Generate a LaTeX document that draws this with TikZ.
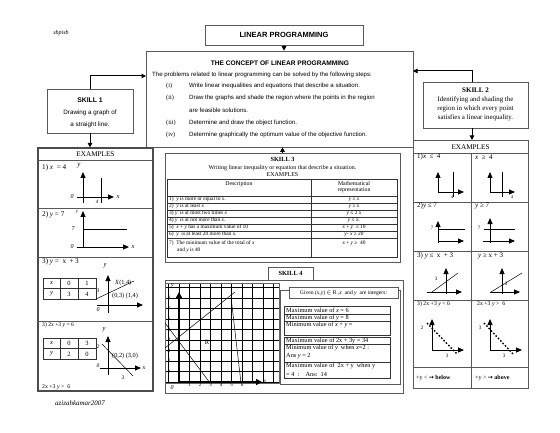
\documentclass[tikz,border=0pt]{standalone}
\usepackage{fontspec}
\setmainfont{Liberation Serif}
\newfontfamily\arial{Liberation Sans}
\newfontfamily\dejavu{DejaVu Sans}
\usetikzlibrary{arrows.meta}
\newcommand\fsz[2]{\fontsize{#1}{#2}\selectfont}
\begin{document}
\begin{tikzpicture}[x=1pt,y=-1pt,
 bx/.style={draw=black!65,line width=.6pt,inner sep=0pt},
 pnl/.style={draw=black!70,line width=1.1pt,inner sep=0pt},
 tl/.style={draw=black!80,line width=.5pt},
 arr/.style={line width=1pt,-{Triangle[length=4.5pt,width=4.5pt]}},
 ax/.style={line width=.8pt,-{Triangle[length=6pt,width=5pt]}},
 ln/.style={line width=.5pt},
 dotl/.style={line width=1.4pt,dash pattern=on 1.6pt off 1.8pt},
 tx/.style={inner sep=0pt},
 lt/.style={inner sep=0pt,anchor=west},
 gridl/.style={draw=black,line width=.75pt},
]
\fill[white] (0,0) rectangle (560,433);
\useasboundingbox (0,0) rectangle (560,433);

% ---------- header ----------
\node[tx,font=\itshape\fsz{6}{7}] (sb) at (61,33) {sbpisb};
\node[tx,font=\itshape\fsz{7}{8}] (az) at (80,403) {azizahkamar2007};
\node[bx,minimum width=158pt,minimum height=20pt,font=\arial\bfseries\fsz{7.5}{9}] (lp) at (284,35) {LINEAR PROGRAMMING};

% ---------- concept ----------
\node[bx,minimum width=267pt,minimum height=96pt] (concept) at (279.5,99) {};
\node[tx,font=\arial\bfseries\fsz{6.6}{8}] (ct) at (280,63) {THE CONCEPT OF LINEAR PROGRAMMING};
\node[lt,font=\arial\fsz{6.1}{7}] (c0) at (152,75) {The problems related to linear programming can be solved by the following steps:};
\node[lt,font=\fsz{6.3}{7}] (ci) at (166,86) {(i)};
\node[lt,font=\arial\fsz{6.1}{7}] (cit) at (189,86) {Write linear inequalities and equations that describe a situation.};
\node[lt,font=\fsz{6.3}{7}] (cii) at (166,98) {(ii)};
\node[lt,font=\arial\fsz{6.1}{7}] (ciit) at (189,98) {Draw the graphs and shade the region where the points in the region};
\node[lt,font=\arial\fsz{6.1}{7}] (ciit2) at (189,110) {are feasible solutions.};
\node[lt,font=\fsz{6.3}{7}] (ciii) at (166,123) {(iii)};
\node[lt,font=\arial\fsz{6.1}{7}] (ciiit) at (189,123) {Determine and draw the object function.};
\node[lt,font=\fsz{6.3}{7}] (civ) at (166,135) {(iv)};
\node[lt,font=\arial\fsz{6.1}{7}] (civt) at (189,135) {Determine graphically the optimum value of the objective function.};

% ---------- skill 1 / skill 2 ----------
\node[bx,minimum width=86pt,minimum height=44pt] (s1) at (90,111) {};
\node[tx,font=\arial\bfseries\fsz{6.8}{8}] (s1a) at (90,100) {SKILL 1};
\node[tx,font=\arial\fsz{6.3}{7}] (s1b) at (90,113) {Drawing a graph of};
\node[tx,font=\arial\fsz{6.3}{7}] (s1c) at (90,125) {a straight line.};

\node[bx,minimum width=105pt,minimum height=46pt] (s2) at (475.5,105) {};
\node[tx,font=\bfseries\fsz{7}{8}] (s2a) at (475.5,90) {SKILL 2};
\node[tx,font=\fsz{6.9}{8}] (s2b) at (475.5,99.5) {Identifying and shading the};
\node[tx,font=\fsz{6.9}{8}] (s2c) at (475.5,108.5) {region in which every point};
\node[tx,font=\fsz{6.9}{8}] (s2d) at (475.5,117.5) {satisfies a linear inequality.};

% ---------- panels ----------
\node[pnl,minimum width=115pt,minimum height=243pt] (lpanel) at (95.5,269.5) {};
\node[bx,line width=.9pt,minimum width=115pt,minimum height=248pt] (rpanel) at (470.5,264) {};

% ---------- connectors ----------
\coordinate (cin1) at (146,76);
\coordinate (cin2) at (413,71);
\draw[arr] (lp.south) -- (lp.south |- concept.north);
\draw[arr] (s1.north) |- (cin1);
\draw[arr] (s2.north -| 472,0) |- (cin2);
\draw[arr] (s1.south) -- (s1.south |- lpanel.north);
\draw[arr] (s2.south -| 472,0) -- (472,140);

% ---------- left examples ----------
\node[tx,font=\fsz{7.2}{8}] (lex) at (95.5,154) {EXAMPLES};
\foreach \yy in {160,208,257,321} \draw[bx,line width=.8pt] (38,\yy) -- (153,\yy);
% 1
\node[lt,font=\fsz{7.2}{8}] (l1) at (42,168) {1) \textit{x}\ \ = 4};
\node[tx,font=\itshape\fsz{7}{8}] (l1y) at (79,166) {y};
\draw[ax] (83,203) -- (83,172);
\draw[ax] (77,197) -- (114,197);
\draw[ln] (101,178) -- (101,203);
\node[tx,font=\itshape\fsz{6}{7}] (l1o) at (72,197) {0};
\node[tx,font=\itshape\fsz{5}{6}] (l1f) at (97,202) {4};
\node[tx,font=\itshape\fsz{6.5}{7}] (l1x) at (118,197) {x};
% 2
\node[lt,font=\fsz{7.2}{8}] (l2) at (42,215) {2) \textit{y} = 7};
\node[tx,font=\itshape\fsz{4.5}{5}] (l2y) at (77,212) {y};
\draw[ax] (83,248) -- (83,211);
\draw[ax] (77,247) -- (129,247);
\draw[ln] (83,229) -- (127,229);
\node[tx,font=\itshape\fsz{6}{7}] (l2s) at (73,229) {7};
\node[tx,font=\itshape\fsz{6}{7}] (l2o) at (72,247) {0};
\node[tx,font=\itshape\fsz{6.5}{7}] (l2x) at (133,247) {x};
% 3
\node[lt,font=\fsz{7.2}{8}] (l3) at (42,262) {3) \textit{y} = \ x \,+ 3};
\node[tx,font=\itshape\fsz{6.5}{7}] (l3y) at (105,266) {y};
\draw[tl] (43,278) rectangle (96,299);
\draw[tl] (43,288.5) -- (96,288.5) (60,278) -- (60,299) (78,278) -- (78,299);
\node[tx,font=\itshape\fsz{6.5}{7}] (l3a) at (51.5,283.5) {x};
\node[tx,font=\fsz{6.5}{7}] (l3b) at (69,283.5) {0};
\node[tx,font=\fsz{6.5}{7}] (l3c) at (87,283.5) {1};
\node[tx,font=\itshape\fsz{6.5}{7}] (l3d) at (51.5,294) {y};
\node[tx,font=\fsz{6.5}{7}] (l3e) at (69,294) {3};
\node[tx,font=\fsz{6.5}{7}] (l3f) at (87,294) {4};
\draw[ax] (108,313) -- (108,275);
\draw[ax] (97,305) -- (143,305);
\draw[ln] (96,299) -- (134,281);
\node[tx,font=\itshape\fsz{5.5}{6}] (l3t) at (98,291) {3};
\node[tx,font=\itshape\fsz{6}{7}] (l3o) at (98,310) {0};
\node[lt,font=\fsz{6.3}{7}] (l3p) at (115,283) {\textit{X}(1,4)};
\node[lt,font=\fsz{6.3}{7}] (l3q) at (112,296) {(0,3) (1,4)};
% 4
\node[lt,font=\fsz{5.6}{6}] (l4) at (42,325) {3) 2x +3 \textit{y} = 6};
\node[tx,font=\itshape\fsz{6.5}{7}] (l4y) at (104,330) {y};
\draw[tl] (43,338) rectangle (96,359);
\draw[tl] (43,348.5) -- (96,348.5) (60,338) -- (60,359) (78,338) -- (78,359);
\node[tx,font=\itshape\fsz{6.5}{7}] (l4a) at (51.5,343.5) {x};
\node[tx,font=\fsz{6.5}{7}] (l4b) at (69,343.5) {0};
\node[tx,font=\fsz{6.5}{7}] (l4c) at (87,343.5) {3};
\node[tx,font=\itshape\fsz{6.5}{7}] (l4d) at (51.5,354) {y};
\node[tx,font=\fsz{6.5}{7}] (l4e) at (69,354) {2};
\node[tx,font=\fsz{6.5}{7}] (l4f) at (87,354) {0};
\draw[ax] (108,375) -- (108,336);
\draw[ax] (100,368) -- (141,368);
\draw[ln] (102,344) -- (133,376);
\node[tx,font=\itshape\fsz{5.5}{6}] (l4t) at (98,347) {2};
\node[tx,font=\itshape\fsz{5.5}{6}] (l4o) at (98,366) {0};
\node[tx,font=\itshape\fsz{5.5}{6}] (l4h) at (123,378) {3};
\node[lt,font=\fsz{6.3}{7}] (l4p) at (112,356) {(0,2) (3,0)};
\node[tx,font=\itshape\fsz{6.3}{7}] (l4x) at (144,368) {x};
\node[lt,font=\fsz{5.8}{6}] (l4i) at (42,387) {2x +3 \textit{y} >\ \ 6};

% ---------- skill 3 ----------
\node[bx,minimum width=235pt,minimum height=109pt] (s3) at (282.5,207.5) {};
\draw[arr] (s3.north) -- (s3.north |- concept.south);
\node[tx,font=\bfseries\fsz{6.3}{7}] (s3a) at (282.5,159) {SKILL 3};
\node[tx,font=\fsz{6}{7}] (s3b) at (282.5,168) {Writing linear inequality or equation that describe a situation.};
\node[tx,font=\fsz{6}{7}] (s3c) at (282.5,175) {EXAMPLES};
\draw[tl,line width=.7pt] (167,179) rectangle (397,257);
\draw[tl] (311,179) -- (311,257);
\foreach \yy in {196,203,210,217,224,231,238} \draw[tl] (167,\yy) -- (397,\yy);
\node[tx,font=\fsz{5.8}{6}] (th1) at (239,184) {Description};
\node[tx,font=\fsz{5.8}{6}] (th2) at (354,183.5) {Mathematical};
\node[tx,font=\fsz{5.8}{6}] (th3) at (354,190.5) {representation};
\begin{scope}[every node/.style={font=\fsz{5.4}{6}}]
\node[lt] (r1) at (169,199.5) {1)\ \ \textit{y} is more or equal to \textit{x}.};
\node[lt] (r2) at (169,206.5) {2)\ \ \textit{y} is at least \textit{x}};
\node[lt] (r3) at (169,213.5) {3)\ \textit{y}\ \ is at most two times \textit{x}};
\node[lt] (r4) at (169,220.5) {4)\ \textit{y}\ \ is at not more than \textit{x}.};
\node[lt] (r5) at (169,227.5) {5)\ \ \textit{x} + \textit{y} has a maximum value of 10};
\node[lt] (r6) at (169,234.5) {6)\ \ \textit{y}\ \ is at least 20 more than \textit{x}.};
\node[lt] (r7) at (169,243) {7)\ \ The minimum value of the total of \textit{x}};
\node[lt] (r7b) at (177,250.5) {and \textit{y} is 40};
\node[tx] (m1) at (354,199.5) {\textit{y} ≥ \textit{x}};
\node[tx] (m2) at (354,206.5) {\textit{y} ≥ \textit{x}};
\node[tx] (m3) at (354,213.5) {\textit{y} ≤ 2 \textit{x}};
\node[tx] (m4) at (354,220.5) {\textit{y} ≤ x.};
\node[tx] (m5) at (354,227.5) {\textit{x} + \textit{y}\ \ ≤ 10};
\node[tx] (m6) at (354,234.5) {\textit{y}- \textit{x} ≥ 20};
\node[tx] (m7) at (354,243) {\textit{x} + \textit{y} ≥\ \ 40};
\end{scope}

% ---------- skill 4 ----------
\node[bx,minimum width=238pt,minimum height=113pt] (s4) at (284,336.5) {};
\node[bx,fill=white,minimum width=45pt,minimum height=13pt,font=\bfseries\fsz{6.3}{7}] (s4t) at (290.5,273.5) {SKILL 4};
\begin{scope}
\clip (165,283) rectangle (279,383.5);
\foreach \k in {-1,...,9} \draw[gridl] (179+10.5*\k,280) -- (179+10.5*\k,390);
\foreach \k in {0,...,9} \draw[gridl] (160,382-10.5*\k) -- (285,382-10.5*\k);
\end{scope}
\draw[gridl,line width=.5pt,draw=black!60] (165,283) rectangle (279,383.5);
\draw[line width=1.8pt,-{Triangle[length=6pt,width=6pt]}] (179,382) -- (179,292);
\draw[line width=1.5pt,-{Triangle[length=6pt,width=6pt]}] (179,382) -- (262,382);
\foreach \k in {1,...,8} \node[tx,font=\itshape\fsz{5}{6}] (gy\k) at (169,382-10.5*\k) {\k};
\foreach \k in {1,...,6} \node[tx,font=\fsz{5}{6}] (gx\k) at (179+10.5*\k,384.5) {\k};
\node[tx,font=\itshape\fsz{6}{7}] (g0) at (172,387.5) {0};
\node[tx,font=\itshape\fsz{6}{7}] (gyl) at (172.5,285.5) {y};
\node[tx,font=\itshape\fsz{5}{6}] (gxl) at (265,381.5) {x};
\draw[ln] (165,323) -- (210,383);
\draw[ln] (165,348) -- (235,292);
\draw[ln] (231,297) -- (241,383);
\node[tx,font=\fsz{6.5}{7}] (gR) at (207,342) {R};

\draw[bx] (280,290) rectangle (400,384);
\node[bx,fill=white,minimum width=109pt,minimum height=11pt,font=\fsz{5.6}{6}] (given) at (343.5,293) {Given (\textit{x},\textit{y}) $\in$ R ,\textit{x}\ \ and \textit{y}\ \ are integers:};
\begin{scope}[every node/.style={font=\fsz{6.3}{7}}]
\draw[tl,line width=.6pt] (284,306) rectangle (390,314);
\draw[tl,line width=.6pt] (284,314) rectangle (390,321);
\draw[tl,line width=.6pt] (284,321) rectangle (390,335);
\draw[tl,line width=.6pt] (284,337) rectangle (390,344);
\draw[tl,line width=.6pt] (284,344) rectangle (390,362);
\draw[tl,line width=.6pt] (284,362) rectangle (390,378);
\node[lt] (k1) at (286,310) {Maximum value of \textit{x} = 6};
\node[lt] (k2) at (286,317.5) {Maximum value of \textit{y} = 8};
\node[lt] (k3) at (286,325) {Minimum value of \textit{x} + \textit{y} =};
\node[lt] (k4) at (286,340.5) {Maximum value of 2x + 3y = 34};
\node[lt] (k5) at (286,348) {Minimum value of \textit{y}\ \ when \textit{x}=2 :};
\node[lt] (k5b) at (286,356.5) {Ans \textit{y} = 2};
\node[lt] (k6) at (286,366) {Maximum value of\ \ 2x + y\ \ when y};
\node[lt] (k6b) at (286,374) {= 4\ \ :\ \ \ \ Ans:\ \ 14};
\end{scope}

% ---------- right examples ----------
\node[tx,font=\fsz{7.2}{8}] (rex) at (470.5,147) {EXAMPLES};
\foreach \yy in {153,202,251,300,367} \draw[bx,line width=.8pt] (413,\yy) -- (528,\yy);
\draw[bx,line width=.8pt] (471,153) -- (471,388);
% row 1
\node[lt,font=\fsz{7}{8}] (q1) at (417,157) {1)\textit{x}\ \ ≤\ \ 4};
\draw[ax] (438,193) -- (438,172);
\draw[ax] (437.6,192) -- (464,192);
\draw[ln] (453,172) -- (453,197);
\node[tx,font=\fsz{4.5}{5}] (q1f) at (452,197.5) {4};
\node[lt,font=\fsz{7}{8}] (q2) at (475,157) {\textit{x}\ \ ≥\ \ 4};
\draw[ax] (490,193) -- (490,172);
\draw[ax] (489.6,192) -- (515,192);
\draw[ln] (502,172) -- (502,197);
\node[tx,font=\fsz{4.5}{5}] (q2f) at (512,197.5) {4};
% row 2
\node[lt,font=\fsz{7}{8}] (q3) at (417,206) {2)\textit{y} ≤ 7};
\draw[ax] (438,243) -- (438,221);
\draw[ax] (437.6,241) -- (464,241);
\draw[ln] (438,229) -- (465,229);
\node[tx,font=\fsz{5}{6}] (q3s) at (432,228) {7};
\node[lt,font=\fsz{7}{8}] (q4) at (475,206) {\textit{y} ≥ 7};
\draw[ax] (490,243) -- (490,218);
\draw[ax] (483,241) -- (515,241);
\draw[ln] (484,229) -- (515,229);
\node[tx,font=\fsz{5}{6}] (q4s) at (479,228) {7};
% row 3
\node[lt,font=\fsz{7}{8}] (q5) at (417,256) {3)\ \textit{y} ≤\ \ x \ + 3};
\draw[ax] (446,294) -- (446,268);
\draw[ax] (427,292) -- (462,292);
\draw[ln] (432,292) -- (458,273);
\node[tx,font=\fsz{5}{6}] (q5s) at (436,279) {3};
\node[lt,font=\fsz{7}{8}] (q6) at (478,256) {\textit{y} ≥ x + 3};
\draw[ax] (502,294) -- (502,268);
\draw[ax] (490,292) -- (520,292);
\draw[ln] (491,292) -- (522,273);
\node[tx,font=\fsz{5}{6}] (q6s) at (506,284) {3};
% row 4
\node[lt,font=\fsz{5.8}{6}] (q7) at (417,304) {3) 2x +3 \textit{y} < 6};
\draw[ax] (432,351) -- (432,319);
\draw[ax] (431.6,350) -- (464,350);
\draw[dotl] (427,323) -- (457,354);
\node[tx,font=\fsz{5}{6}] (q7a) at (422,328) {2};
\node[tx,font=\fsz{5}{6}] (q7b) at (447,356) {3};
\node[lt,font=\fsz{5.8}{6}] (q8) at (477,304) {2x +3 \textit{y} >\ \ 6};
\draw[ax] (490,351) -- (490,319);
\draw[ax] (489.6,350) -- (522,350);
\draw[dotl] (484,323) -- (513,354);
\node[tx,font=\fsz{5}{6}] (q8a) at (480,328) {3};
\node[tx,font=\fsz{5}{6}] (q8b) at (504,356) {3};
% row 5
\node[lt,font=\fsz{6}{7}] (q9) at (416,378.5) {+y < {\dejavu\bfseries →} \textbf{below}};
\node[lt,font=\fsz{6}{7}] (q10) at (475,378.5) {+y > {\dejavu\bfseries →} \textbf{above}};
\end{tikzpicture}
\end{document}
